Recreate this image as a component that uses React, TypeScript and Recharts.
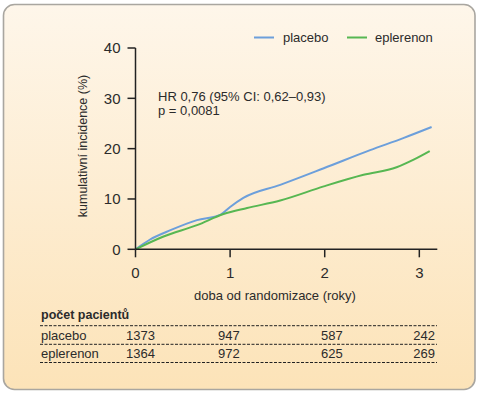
import React from "react";
import { LineChart, Line, XAxis, YAxis } from "recharts";

// ---- data ----
const placeboTime = [0, 0.15, 0.37, 0.65, 0.9, 1.0, 1.14, 1.53, 1.99, 2.48, 2.83, 3.13];
const placeboValue = [0, 1.9, 3.8, 5.8, 6.9, 8.4, 10.2, 12.8, 16.1, 19.7, 22.1, 24.3];
const eplerenonTime = [0, 0.29, 0.65, 0.93, 1.18, 1.53, 1.99, 2.41, 2.76, 2.94, 3.11];
const eplerenonValue = [0, 2.5, 4.8, 7.0, 8.2, 9.7, 12.5, 14.8, 16.3, 17.8, 19.5];
const xTicks = [0, 1, 2, 3];
const yTicks = [0, 10, 20, 30, 40];
const seriesNames = ["placebo", "eplerenon"];
const atRiskPlacebo = [1373, 947, 587, 242];
const atRiskEplerenon = [1364, 972, 625, 269];

const placeboData = placeboTime.map((t, i) => ({ t, v: placeboValue[i] }));
const eplerenonData = eplerenonTime.map((t, i) => ({ t, v: eplerenonValue[i] }));

const BLUE = "#6c9fdb";
const GREEN = "#57b752";
const FONT = "'Liberation Sans', Arial, Helvetica, sans-serif";
const TXT = "#2b2b2b";

const W = 481;
const H = 396;

export default function App() {
  const numX = [126, 218, 321, 435];
  const numAnchor = ["start", "start", "start", "end"];
  return (
    <div style={{ position: "absolute", left: 0, top: 0, width: W, height: H }}>
      <svg width={W} height={H} style={{ position: "absolute", left: 0, top: 0 }}>
        <defs>
          <linearGradient id="bg" x1="0" y1="0" x2="0" y2="1">
            <stop offset="0%" stopColor="#fef6ea" />
            <stop offset="100%" stopColor="#fce3b8" />
          </linearGradient>
        </defs>
        <rect x={3.5} y={4.5} width={471.5} height={385} rx={11} ry={11} fill="url(#bg)" stroke="#a9a6a0" strokeWidth={1.6} />
        {/* legend */}
        <line x1={254} y1={37.5} x2={274} y2={37.5} stroke={BLUE} strokeWidth={2} />
        <text x={283} y={37.5} dominantBaseline="central" fontFamily={FONT} fontSize={13} fill={TXT}>{seriesNames[0]}</text>
        <line x1={347} y1={37.5} x2={367} y2={37.5} stroke={GREEN} strokeWidth={2} />
        <text x={375} y={37.5} dominantBaseline="central" fontFamily={FONT} fontSize={13} fill={TXT}>{seriesNames[1]}</text>
        {/* annotation */}
        <text x={158} y={96} dominantBaseline="central" fontFamily={FONT} fontSize={13} fill={TXT}>HR 0,76 (95% CI: 0,62–0,93)</text>
        <text x={158} y={110.5} dominantBaseline="central" fontFamily={FONT} fontSize={13} fill={TXT}>p = 0,0081</text>
        {/* axis titles */}
        <text x={83} y={146} transform="rotate(-90 83 146)" textAnchor="middle" dominantBaseline="central" fontFamily={FONT} fontSize={12.5} fill={TXT}>kumulativní incidence (%)</text>
        <text x={275} y={295} textAnchor="middle" dominantBaseline="central" fontFamily={FONT} fontSize={13} fill={TXT}>doba od randomizace (roky)</text>
        {/* at-risk table */}
        <text x={41} y={315} dominantBaseline="central" fontFamily={FONT} fontSize={12.5} fontWeight="bold" fill={TXT}>počet pacientů</text>
        <line x1={40} y1={325.7} x2={437} y2={325.7} stroke="#222" strokeWidth={1} strokeDasharray="3 1.5" />
        <line x1={40} y1={344.3} x2={437} y2={344.3} stroke="#222" strokeWidth={1} strokeDasharray="3 1.5" />
        <line x1={40} y1={362.5} x2={437} y2={362.5} stroke="#222" strokeWidth={1} strokeDasharray="3 1.5" />
        <text x={41} y={335} dominantBaseline="central" fontFamily={FONT} fontSize={13} fill={TXT}>{seriesNames[0]}</text>
        <text x={41} y={353.5} dominantBaseline="central" fontFamily={FONT} fontSize={13} fill={TXT}>{seriesNames[1]}</text>
        {atRiskPlacebo.map((n, i) => (
          <text key={"p" + i} x={numX[i]} y={335} textAnchor={numAnchor[i] as any} dominantBaseline="central" fontFamily={FONT} fontSize={13} fill={TXT}>{n}</text>
        ))}
        {atRiskEplerenon.map((n, i) => (
          <text key={"e" + i} x={numX[i]} y={353.5} textAnchor={numAnchor[i] as any} dominantBaseline="central" fontFamily={FONT} fontSize={13} fill={TXT}>{n}</text>
        ))}
      </svg>
      <div style={{ position: "absolute", left: 0, top: 0 }}>
        <LineChart width={W} height={H} margin={{ top: 48, right: 43.7, bottom: 116.7, left: 75.5 }}>
          <XAxis
            dataKey="t"
            type="number"
            domain={[0, 3.19]}
            ticks={xTicks}
            allowDataOverflow
            height={30}
            tickSize={8}
            tickMargin={10.5}
            axisLine={{ stroke: "#222", strokeWidth: 1.5 }}
            tickLine={{ stroke: "#222", strokeWidth: 1.5 }}
            tick={{ fontSize: 15, fill: TXT, fontFamily: FONT }}
          />
          <YAxis
            dataKey="v"
            type="number"
            domain={[0, 40]}
            ticks={yTicks}
            width={60}
            tickSize={8}
            tickMargin={7}
            axisLine={{ stroke: "#222", strokeWidth: 1.5 }}
            tickLine={{ stroke: "#222", strokeWidth: 1.5 }}
            tick={{ fontSize: 15, fill: TXT, fontFamily: FONT }}
          />
          <Line data={placeboData} dataKey="v" type="monotone" stroke={BLUE} strokeWidth={2} dot={false} isAnimationActive={false} name={seriesNames[0]} />
          <Line data={eplerenonData} dataKey="v" type="monotone" stroke={GREEN} strokeWidth={2} dot={false} isAnimationActive={false} name={seriesNames[1]} />
        </LineChart>
      </div>
    </div>
  );
}
